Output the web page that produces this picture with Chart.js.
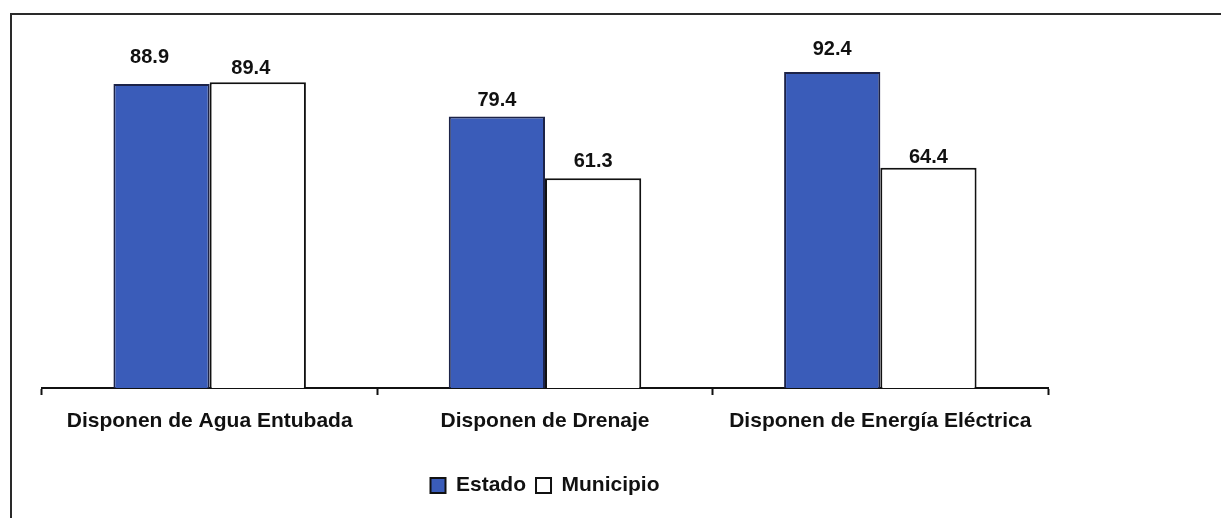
<!DOCTYPE html>
<html>
<head>
<meta charset="utf-8">
<script src="https://cdn.jsdelivr.net/npm/chart.js@4/dist/chart.umd.min.js"></script>
<style>
  html, body { margin: 0; padding: 0; background: #ffffff; }
  #wrap { position: relative; width: 1221px; height: 518px; }
</style>
</head>
<body>
<div id="wrap"><canvas id="c" width="1221" height="518"></canvas></div>
<script>
const categories = ["Disponen de Agua Entubada", "Disponen de Drenaje", "Disponen de Energía Eléctrica"];
const seriesNames = ["Estado", "Municipio"];
const estadoValues = [88.9, 79.4, 92.4];
const municipioValues = [89.4, 61.3, 64.4];

const FONT = "'Liberation Sans', Arial, sans-serif";

const framePlugin = {
  id: 'frame',
  beforeDraw(chart) {
    const ctx = chart.ctx;
    ctx.save();
    ctx.fillStyle = '#ffffff';
    ctx.fillRect(0, 0, chart.width, chart.height);
    ctx.strokeStyle = '#2a2a2a';
    ctx.lineWidth = 2;
    ctx.beginPath();
    ctx.moveTo(11, chart.height);
    ctx.lineTo(11, 14);
    ctx.lineTo(chart.width, 14);
    ctx.stroke();
    ctx.restore();
  }
};

const valueLabelPlugin = {
  id: 'valueLabels',
  afterDatasetsDraw(chart, args, opts) {
    const ctx = chart.ctx;
    ctx.save();
    ctx.font = 'bold 20px ' + FONT;
    ctx.fillStyle = '#111111';
    ctx.textAlign = 'center';
    ctx.textBaseline = 'alphabetic';
    chart.data.datasets.forEach((ds, di) => {
      const meta = chart.getDatasetMeta(di);
      meta.data.forEach((bar, i) => {
        const v = ds.data[i];
        const gap = (opts.gaps && opts.gaps[di] && opts.gaps[di][i] != null) ? opts.gaps[di][i] : 9;
        const dx = (opts.shifts && opts.shifts[di] && opts.shifts[di][i] != null) ? opts.shifts[di][i] : 0;
        ctx.fillText(v.toFixed(1), bar.x + dx, bar.y - gap);
      });
    });
    ctx.restore();
  }
};

new Chart(document.getElementById('c'), {
  type: 'bar',
  data: {
    labels: categories,
    datasets: [
      {
        label: seriesNames[0],
        data: estadoValues,
        backgroundColor: '#3a5cb9',
        borderColor: '#1c2348',
        borderWidth: 2,
        borderSkipped: 'bottom'
      },
      {
        label: seriesNames[1],
        data: municipioValues,
        backgroundColor: '#ffffff',
        borderColor: '#111111',
        borderWidth: 2,
        borderSkipped: 'bottom'
      }
    ]
  },
  options: {
    responsive: false,
    animation: false,
    devicePixelRatio: 1,
    layout: { padding: { left: 42, right: 173, top: 46, bottom: 12 } },
    datasets: {
      bar: { categoryPercentage: 0.574, barPercentage: 1.0 }
    },
    scales: {
      x: {
        grid: {
          display: true,
          drawOnChartArea: false,
          drawTicks: true,
          tickLength: 7,
          tickColor: '#111111',
          tickWidth: 2,
          offset: true
        },
        border: { display: true, color: '#111111', width: 2 },
        ticks: {
          color: '#111111',
          font: { family: FONT, size: 21, weight: 'bold' },
          padding: 14,
          maxRotation: 0,
          autoSkip: false
        },
        afterFit(scale) { scale.height = 77; }
      },
      y: {
        display: false,
        min: 0,
        max: 100
      }
    },
    plugins: {
      legend: {
        display: true,
        position: 'bottom',
        labels: {
          color: '#111111',
          font: { family: FONT, size: 21, weight: 'bold' },
          boxWidth: 15,
          boxHeight: 15,
          padding: 10,
          generateLabels(chart) {
            return chart.data.datasets.map((ds, i) => ({
              text: ds.label,
              fillStyle: ds.backgroundColor,
              strokeStyle: '#111111',
              lineWidth: 2,
              hidden: false,
              datasetIndex: i,
              fontColor: '#111111'
            }));
          }
        }
      },
      tooltip: { enabled: false },
      valueLabels: {
        gaps: [[21, 10, 17], [8, 11, 5]],
        shifts: [[-12, 0, 0], [-7, 0, 0]]
      }
    }
  },
  plugins: [framePlugin, valueLabelPlugin]
});
</script>
</body>
</html>
